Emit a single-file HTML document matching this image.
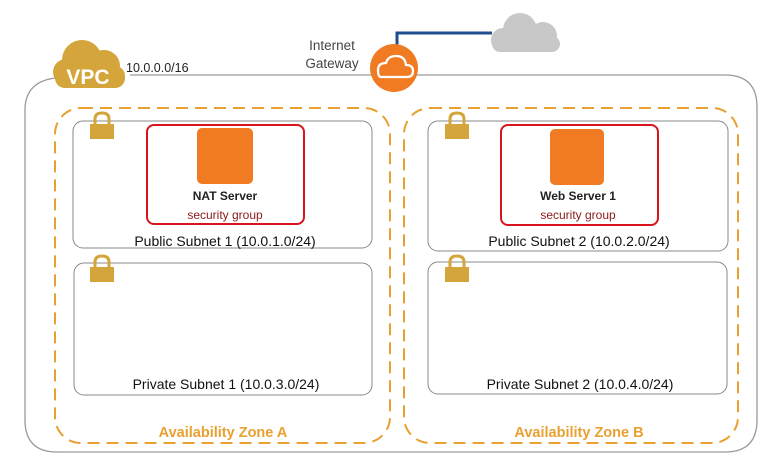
<!DOCTYPE html>
<html><head><style>
html,body{margin:0;padding:0;background:#fff;width:769px;height:463px;overflow:hidden}
svg{display:block;font-family:"Liberation Sans",sans-serif}
</style></head><body>
<svg width="769" height="463" viewBox="0 0 769 463">
<path d="M130 75 H725 Q757 75 757 107 V420 Q757 452 725 452 H57 Q25 452 25 420 V110 Q25 82 55 78" fill="none" stroke="#9a9a9a" stroke-width="1.3"/>
<path d="M397 46 V33 H492" fill="none" stroke="#1f4e8c" stroke-width="3"/>
<g fill="#c8c8c8">
<circle cx="520" cy="30" r="17"/><circle cx="543" cy="36" r="14"/><circle cx="503" cy="40" r="12"/>
<rect x="492" y="36" width="68" height="16" rx="8"/>
</g>
<circle cx="394" cy="68" r="24" fill="#f07b22"/>
<path d="M381 77 H407 Q413 77 413 71 Q413 65 406 65 Q405 56 396 56 Q388 56 386 63 Q378 63 378 70 Q378 77 381 77 Z" fill="none" stroke="#fff" stroke-width="2.3"/>
<text x="332" y="50" font-size="13.5" fill="#444" text-anchor="middle">Internet</text>
<text x="332" y="68" font-size="13.5" fill="#444" text-anchor="middle">Gateway</text>
<g fill="#d4a53a">
<circle cx="82" cy="60" r="20"/><circle cx="104" cy="66" r="16"/><circle cx="66" cy="72" r="13"/>
<rect x="55" y="66" width="70" height="22" rx="10"/>
</g>
<text x="88" y="84" font-size="21" fill="#fff" text-anchor="middle" font-weight="bold">VPC</text>
<text x="126" y="72" font-size="12.5" fill="#222">10.0.0.0/16</text>
<rect x="55" y="108" width="335" height="335" rx="26" fill="none" stroke="#e8a030" stroke-width="2" stroke-dasharray="12,7"/>
<rect x="404" y="108" width="334" height="335" rx="26" fill="none" stroke="#e8a030" stroke-width="2" stroke-dasharray="12,7"/>
<text x="223" y="437" font-size="14.5" fill="#e8a030" font-weight="bold" text-anchor="middle">Availability Zone A</text>
<text x="579" y="437" font-size="14.5" fill="#e8a030" font-weight="bold" text-anchor="middle">Availability Zone B</text>
<rect x="73" y="121" width="299" height="127" rx="10" fill="none" stroke="#888" stroke-width="1"/>
<rect x="74" y="263" width="298" height="132" rx="10" fill="none" stroke="#888" stroke-width="1"/>
<rect x="428" y="121" width="300" height="130" rx="10" fill="none" stroke="#888" stroke-width="1"/>
<rect x="428" y="262" width="299" height="132" rx="10" fill="none" stroke="#888" stroke-width="1"/>
<text x="225" y="246" font-size="14" fill="#111" text-anchor="middle">Public Subnet 1 (10.0.1.0/24)</text>
<text x="226" y="389" font-size="14" fill="#111" text-anchor="middle">Private Subnet 1 (10.0.3.0/24)</text>
<text x="579" y="246" font-size="14" fill="#111" text-anchor="middle">Public Subnet 2 (10.0.2.0/24)</text>
<text x="580" y="389" font-size="14" fill="#111" text-anchor="middle">Private Subnet 2 (10.0.4.0/24)</text>
<g fill="#d4a53a">
<rect x="90" y="124" width="24" height="15"/><path d="M95 124 V119 Q95 113 102 113 Q109 113 109 119 V124" fill="none" stroke="#d4a53a" stroke-width="3"/>
<rect x="90" y="267" width="24" height="15"/><path d="M95 267 V262 Q95 256 102 256 Q109 256 109 262 V267" fill="none" stroke="#d4a53a" stroke-width="3"/>
<rect x="445" y="124" width="24" height="15"/><path d="M450 124 V119 Q450 113 457 113 Q464 113 464 119 V124" fill="none" stroke="#d4a53a" stroke-width="3"/>
<rect x="445" y="267" width="24" height="15"/><path d="M450 267 V262 Q450 256 457 256 Q464 256 464 262 V267" fill="none" stroke="#d4a53a" stroke-width="3"/>
</g>
<rect x="147" y="125" width="157" height="99" rx="7" fill="none" stroke="#d9141c" stroke-width="2"/>
<rect x="501" y="125" width="157" height="100" rx="7" fill="none" stroke="#d9141c" stroke-width="2"/>
<rect x="197" y="128" width="56" height="56" rx="5" fill="#f07b22"/>
<rect x="550" y="129" width="54" height="56" rx="5" fill="#f07b22"/>
<text x="225" y="200" font-size="12" font-weight="bold" fill="#222" text-anchor="middle">NAT Server</text>
<text x="225" y="219" font-size="12" fill="#8b1a1a" text-anchor="middle">security group</text>
<text x="578" y="200" font-size="12" font-weight="bold" fill="#222" text-anchor="middle">Web Server 1</text>
<text x="578" y="219" font-size="12" fill="#8b1a1a" text-anchor="middle">security group</text>
</svg>
</body></html>
